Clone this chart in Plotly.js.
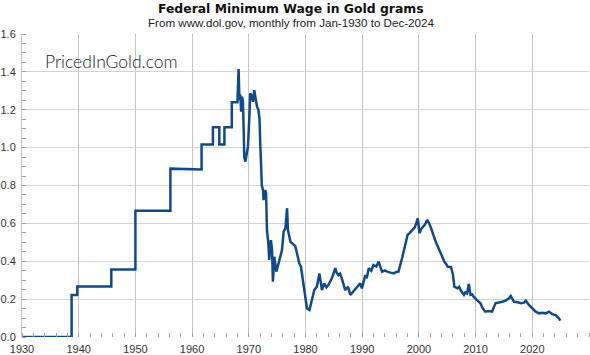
<!DOCTYPE html>
<html>
<head>
<meta charset="utf-8">
<script src="https://cdn.plot.ly/plotly-3.0.1.min.js"></script>
<style>html,body{margin:0;padding:0;background:#fff;}#chart{width:590px;height:355px;}</style>
</head>
<body>
<div id="chart"></div>
<script>
// Decimal year of each reading
const years = [
1930.0,1938.75,1938.75,1939.75,1939.75,1945.75,1945.75,1950.0,1950.0,1956.17,1956.17,1961.67,1961.67,1963.67,1963.67,1964.8,1964.8,1965.7,1965.7,1967.0,1967.0,1968.0,
1968.2,1968.35,1968.5,1968.65,1968.8,1968.95,1969.1,1969.2,1969.4,1969.7,1969.85,1970.1,1970.25,1970.55,1970.75,1970.95,1971.2,1971.45,1971.7,1971.9,1972.0,1972.3,1972.5,1972.6,1972.9,
1973.05,1973.2,1973.45,1973.6,1973.9,1974.1,1974.25,1974.5,1974.85,1975.25,1975.85,1976.15,1976.45,1976.75,1976.9,1977.35,1977.9,1978.2,1978.5,1978.9,1979.2,1979.55,1979.95,
1980.25,1980.7,1981.1,1981.55,1982.0,1982.45,1982.9,1983.3,1983.7,1984.05,1984.65,1985.25,1985.5,1985.8,1986.1,1986.4,1987.0,1987.5,1987.9,1988.4,1988.8,1989.3,1989.65,1989.95,1990.55,1990.8,1991.15,1991.6,1992.0,1992.5,1992.9,1993.2,1993.5,1994.0,1994.4,1995.0,1995.6,1996.0,1996.4,
1997.1,1997.5,1998.0,1998.4,1998.9,1999.3,1999.8,2000.1,2000.4,2000.7,2001.1,2001.45,2001.8,2002.15,2002.6,2003.0,2003.35,2003.6,2003.9,2004.2,2004.5,2005.1,2005.65,2006.0,2006.25,2006.8,2007.1,2007.35,2007.95,2008.2,2008.5,2008.8,2009.1,2009.4,2009.65,2010.25,2010.85,
2011.2,2011.7,2012.3,2012.9,2013.5,2014.1,2014.7,2015.3,2015.9,2016.2,2016.8,2017.4,2018.0,2018.55,2018.85,2019.4,2020.0,2020.6,2021.2,2021.75,2022.35,2022.95,2023.5,2024.1,2024.7,2024.95
];
// Federal minimum wage expressed in grams of gold
const gramsOfGold = [
0,0,0.222,0.222,0.267,0.267,0.356,0.356,0.667,0.667,0.889,0.885,1.017,1.017,1.107,1.107,1.017,1.017,1.107,1.107,1.239,1.239,
1.415,1.251,1.28,1.19,1.269,1.25,1.093,0.952,0.926,0.987,1.005,1.163,1.287,1.27,1.242,1.304,1.26,1.216,1.2,1.146,1.04,0.80,0.776,0.723,0.776,
0.76,0.565,0.495,0.407,0.512,0.459,0.292,0.424,0.345,0.389,0.459,0.556,0.574,0.68,0.565,0.503,0.486,0.48,0.442,0.389,0.371,0.30,0.213,
0.152,0.143,0.186,0.248,0.266,0.336,0.248,0.283,0.262,0.275,0.31,0.363,0.34,0.327,0.335,0.31,0.248,0.265,0.222,0.24,0.257,0.27,0.283,0.257,0.327,0.31,0.363,0.35,0.38,0.372,0.398,0.37,0.345,0.352,0.345,0.34,0.336,0.343,0.345,
0.424,0.47,0.539,0.55,0.565,0.58,0.627,0.548,0.57,0.582,0.595,0.618,0.6,0.574,0.53,0.5,0.477,0.46,0.442,0.415,0.398,0.371,0.37,0.33,0.266,0.257,0.265,0.248,0.222,0.235,0.23,0.28,0.222,0.225,0.213,0.195,0.178,
0.155,0.134,0.137,0.134,0.178,0.181,0.186,0.192,0.204,0.216,0.186,0.183,0.178,0.181,0.192,0.169,0.152,0.134,0.125,0.128,0.125,0.134,0.121,0.116,0.098,0.086
];
const xTickVals = [1930,1940,1950,1960,1970,1980,1990,2000,2010,2020];
const yTickVals = [0,0.2,0.4,0.6,0.8,1.0,1.2,1.4,1.6];
const titleText = "Federal Minimum Wage in Gold grams";
const subtitleText = "From www.dol.gov, monthly from Jan-1930 to Dec-2024";
const watermarkText = "PricedInGold.com";

const trace = {
  x: years, y: gramsOfGold, type: 'scatter', mode: 'lines',
  line: {color: '#114a8b', width: 2.5}, hoverinfo: 'none'
};
const layout = {
  width: 590, height: 355,
  margin: {l: 22, r: 1, t: 34, b: 18},
  paper_bgcolor: '#fff', plot_bgcolor: '#fff',
  showlegend: false,
  font: {family: 'Liberation Sans, Arial, sans-serif', size: 11, color: '#333'},
  xaxis: {
    range: [1930, 2030], tickvals: xTickVals, ticktext: xTickVals.map(String),
    showgrid: true, gridcolor: '#c4c4c4', gridwidth: 1, zeroline: false, showline: false,
    ticks: '', ticklabelstandoff: 4, tickfont: {size: 11, color: '#333'},
    minor: {dtick: 2, tick0: 1930, ticks: 'inside', ticklen: 4, tickcolor: '#a0a0a0', showgrid: false}
  },
  yaxis: {
    range: [0, 1.6], tickvals: yTickVals, tickformat: '.1f',
    showgrid: true, gridcolor: '#d4d4d4', gridwidth: 1, zeroline: false,
    showline: true, linecolor: '#c4c4c4', linewidth: 1,
    ticks: '', ticklabelstandoff: 3, tickfont: {size: 11, color: '#333'},
    minor: {dtick: 0.05, tick0: 0, ticks: 'inside', ticklen: 4, tickcolor: '#a0a0a0', showgrid: false}
  },
  annotations: [
    {text: '<b>' + titleText + '</b>', xref: 'paper', yref: 'paper', x: 0.4736, y: 1.0858,
     xanchor: 'center', yanchor: 'middle', showarrow: false,
     font: {family: 'DejaVu Sans, sans-serif', size: 12.4, color: '#111'}},
    {text: subtitleText, xref: 'paper', yref: 'paper', x: 0.4736, y: 1.0396,
     xanchor: 'center', yanchor: 'middle', showarrow: false,
     font: {family: 'Liberation Sans, Arial, sans-serif', size: 11.6, color: '#222'}},
    {text: watermarkText, xref: 'paper', yref: 'paper', x: 0.1576, y: 0.9076,
     xanchor: 'center', yanchor: 'middle', showarrow: false,
     font: {family: 'Lato, sans-serif', size: 17.5, weight: 300, color: '#222'}}
  ]
};
Plotly.newPlot('chart', [trace], layout, {staticPlot: true, displayModeBar: false});
</script>
</body>
</html>
